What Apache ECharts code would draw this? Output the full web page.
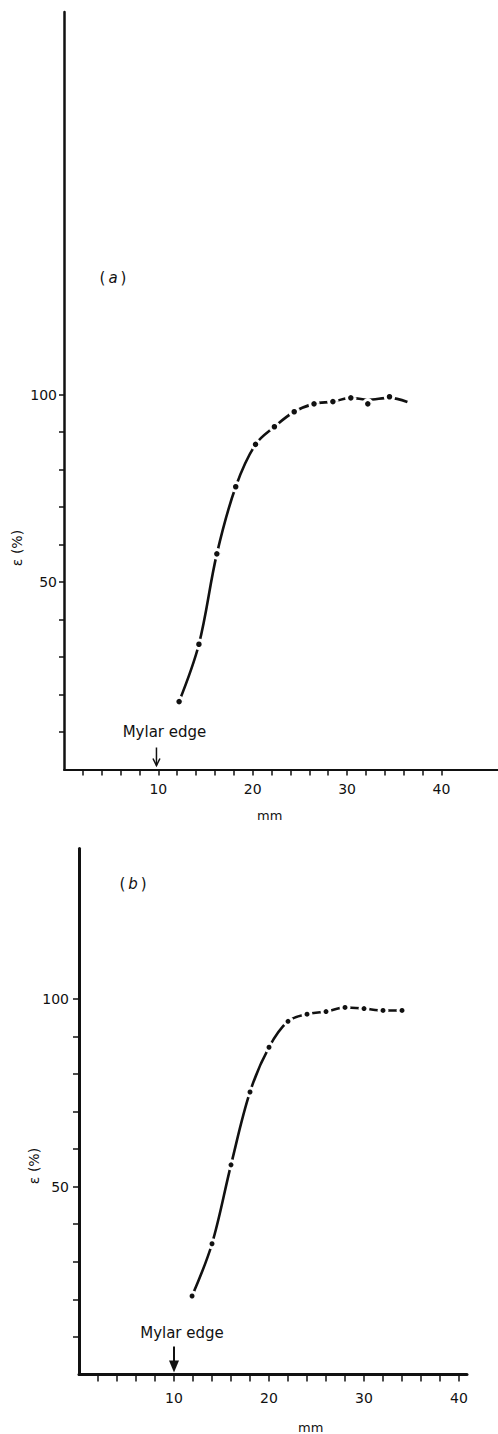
<!DOCTYPE html>
<html>
<head>
<meta charset="utf-8">
<script src="https://cdn.jsdelivr.net/npm/echarts@6/dist/echarts.min.js"></script>
<style>
  html, body { margin: 0; padding: 0; background: #fff; }
  #main { width: 498px; height: 1434px; }
</style>
</head>
<body>
<div id="main"></div>
<script>
// Panel (a): measured efficiency along the strip and the hand-fitted curve
const posA = [12.2, 14.3, 16.2, 18.2, 20.3, 22.3, 24.4, 26.5, 28.5, 30.4, 32.2, 34.5];
const effA = [18.1, 33.4, 57.5, 75.4, 86.7, 91.4, 95.4, 97.5, 98.1, 99.1, 97.5, 99.4];
const curvePosA = [12.2, 14.3, 16.2, 18.2, 20.3, 22.3, 24.4, 26.5, 28.5, 30.4, 32.2, 34.5, 36.4];
const curveEffA = [18.1, 33.4, 57.5, 75.4, 86.7, 91.4, 95.4, 97.5, 98.1, 99.1, 98.6, 99.1, 98.0];

// Panel (b)
const posB = [11.9, 14, 16, 18, 20, 22, 24, 26, 28, 30, 32, 34];
const effB = [20.9, 34.8, 55.8, 75.2, 87.1, 94.0, 95.9, 96.6, 97.7, 97.4, 96.9, 96.9];

// Axis ticks and labels
const xTicks = [2, 4, 6, 8, 10, 12, 14, 16, 18, 20, 22, 24, 26, 28, 30, 32, 34, 36, 38, 40];
const xLabels = [10, 20, 30, 40];
const yTicks = [10, 20, 30, 40, 50, 60, 70, 80, 90, 100];
const yLabels = [50, 100];

// Mylar edge marker positions (mm)
const mylarEdgeA = 9.8;
const mylarEdgeB = 10;

const FONT = '"DejaVu Sans", sans-serif';
const INK = '#111';

const zip = (xs, ys) => xs.map((x, i) => [x, ys[i]]);

function xAxisOf(gridIndex, max, lineW, tickLen, labelMargin) {
  return {
    type: 'value', gridIndex, min: 0, max,
    axisLine: { show: true, onZero: false, lineStyle: { color: INK, width: lineW } },
    axisTick: { show: true, customValues: xTicks, length: tickLen, lineStyle: { color: INK, width: 1.5 } },
    axisLabel: { customValues: xLabels, margin: labelMargin, color: INK, fontFamily: FONT, fontSize: 14 },
    splitLine: { show: false }
  };
}
function yAxisOf(gridIndex, max, lineW, tickLen, labelMargin) {
  return {
    type: 'value', gridIndex, min: 0, max,
    axisLine: { show: true, onZero: false, lineStyle: { color: INK, width: lineW } },
    axisTick: { show: true, customValues: yTicks, length: tickLen, lineStyle: { color: INK, width: 1.5 } },
    axisLabel: { customValues: yLabels, margin: labelMargin, color: INK, fontFamily: FONT, fontSize: 14 },
    splitLine: { show: false }
  };
}
function curveSeries(idx, data, width) {
  return {
    type: 'line', xAxisIndex: idx, yAxisIndex: idx, data,
    smooth: 0.35, showSymbol: false, silent: true, z: 2,
    lineStyle: { color: INK, width }
  };
}
function pointSeries(idx, data, size, border) {
  return {
    type: 'scatter', xAxisIndex: idx, yAxisIndex: idx, data,
    symbol: 'circle', symbolSize: size, silent: true, z: 3,
    itemStyle: { color: INK, borderColor: '#fff', borderWidth: border, opacity: 1 }
  };
}

const chart = echarts.init(document.getElementById('main'), null, { renderer: 'svg' });
chart.setOption({
  animation: false,
  backgroundColor: '#fff',
  grid: [
    { left: 64, top: 12, width: 434, height: 757.5 },
    { left: 79, top: 848.5, width: 388, height: 526 }
  ],
  xAxis: [xAxisOf(0, 46, 2, 6, 12), xAxisOf(1, 40.84, 3, 7, 16)],
  yAxis: [yAxisOf(0, 202, 2.5, 5, 7), yAxisOf(1, 140, 3, 6, 10)],
  series: [
    curveSeries(0, zip(curvePosA, curveEffA), 2.6),
    pointSeries(0, zip(posA, effA), 8.5, 3),
    curveSeries(1, zip(posB, effB), 2.6),
    pointSeries(1, zip(posB, effB), 8, 3)
  ]
});

// Annotations placed through each panel's coordinate system
function px(gridIndex, x, y) {
  return chart.convertToPixel({ xAxisIndex: gridIndex, yAxisIndex: gridIndex }, [x, y]);
}
const gA = chart.getModel().getComponent('grid', 0).coordinateSystem.getRect();
const gB = chart.getModel().getComponent('grid', 1).coordinateSystem.getRect();
const axisYA = gA.y + gA.height;
const axisYB = gB.y + gB.height;
const arrowXA = px(0, mylarEdgeA, 0)[0];
const arrowXB = px(1, mylarEdgeB, 0)[0];

function text(x, y, str, size, extra) {
  return {
    type: 'text', x, y, silent: true,
    style: Object.assign({ text: str, fill: INK, font: size + 'px ' + FONT, align: 'center', verticalAlign: 'middle' }, extra || {})
  };
}
function panelLabel(x, y, letter) {
  return {
    type: 'text', x, y, silent: true,
    style: {
      text: '{p|(}{i|' + letter + '}{p|)}', align: 'center', verticalAlign: 'middle',
      rich: {
        p: { fill: INK, fontFamily: FONT, fontSize: 15, padding: [0, 1] },
        i: { fill: INK, fontFamily: FONT, fontSize: 15, fontStyle: 'italic', padding: [0, 2] }
      }
    }
  };
}

chart.setOption({
  graphic: [
    // panel (a)
    panelLabel(113, 278, 'a'),
    Object.assign(text(17, 548, 'ε (%)', 14), { rotation: Math.PI / 2 }),
    text(gA.x + gA.width * 0.474, axisYA + 46, 'mm', 13),
    text(arrowXA + 8, axisYA - 38, 'Mylar edge', 15),
    { type: 'line', silent: true, shape: { x1: arrowXA, y1: axisYA - 22, x2: arrowXA, y2: axisYA - 4 },
      style: { stroke: INK, lineWidth: 1.5 } },
    { type: 'polyline', silent: true,
      shape: { points: [[arrowXA - 3.5, axisYA - 11], [arrowXA, axisYA - 4], [arrowXA + 3.5, axisYA - 11]] },
      style: { stroke: INK, lineWidth: 1.5, fill: null } },
    // panel (b)
    panelLabel(133, 884, 'b'),
    Object.assign(text(34, 1166, 'ε (%)', 14), { rotation: Math.PI / 2 }),
    text(gB.x + gB.width * 0.597, axisYB + 53, 'mm', 13),
    text(arrowXB + 8, axisYB - 42, 'Mylar edge', 15),
    { type: 'line', silent: true, shape: { x1: arrowXB, y1: axisYB - 28, x2: arrowXB, y2: axisYB - 12 },
      style: { stroke: INK, lineWidth: 2 } },
    { type: 'polygon', silent: true,
      shape: { points: [[arrowXB - 5, axisYB - 14], [arrowXB + 5, axisYB - 14], [arrowXB, axisYB - 2]] },
      style: { fill: INK } }
  ]
});
</script>
</body>
</html>
